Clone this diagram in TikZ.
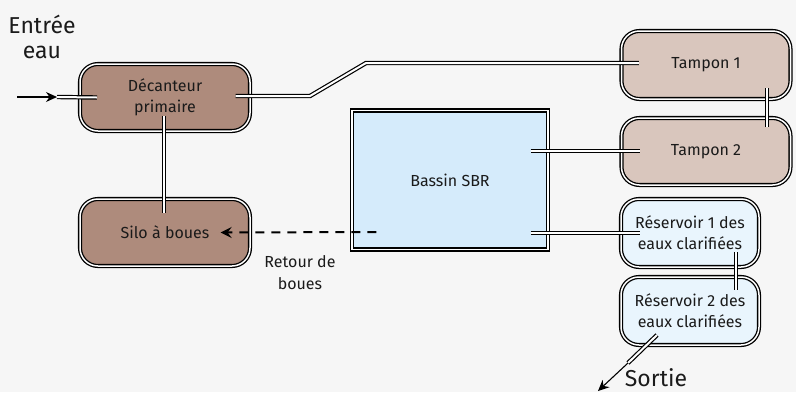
\documentclass[tikz,border=0pt]{standalone}
\usepackage{fontspec}
\setmainfont{Fira Sans}
\usetikzlibrary{arrows.meta}
\definecolor{bg}{HTML}{F6F6F6}
\definecolor{decfill}{HTML}{AE8B7C}
\definecolor{tampfill}{HTML}{D9C6BD}
\definecolor{sbrfill}{HTML}{D5EBFB}
\definecolor{resfill}{HTML}{E9F5FD}
\definecolor{txt}{HTML}{1A1A1A}
\tikzset{
  tank/.style={draw=black, line width=1.3pt, double=white, double distance=1.5pt,
    rounded corners=18pt, align=center, text=txt, font=\fontsize{16}{21}\selectfont, inner sep=2pt},
  basin/.style={draw=black, line width=1.3pt, double=white, double distance=1.5pt,
    align=center, text=txt, font=\fontsize{16}{21}\selectfont},
  pipe/.style={draw=black, line width=1.2pt, double=white, double distance=2pt},
  flow/.style={draw=black, line width=1.1pt, -{Stealth[length=11pt,width=10pt]}},
  label/.style={text=txt, align=center, font=\fontsize{16}{19}\selectfont},
  biglabel/.style={text=txt, align=center, font=\fontsize{23}{27}\selectfont},
}
\begin{document}
\begin{tikzpicture}[x=1pt,y=-1pt]
\fill[bg] (0,0) rectangle (796,392);
\useasboundingbox (0,0) rectangle (796,392);

% tanks
\node[tank, fill=decfill, minimum width=170pt, minimum height=67pt] (dec) at (165,97.5) {Décanteur\\primaire};
\node[tank, fill=decfill, minimum width=170pt, minimum height=67pt] (silo) at (165,232.5) {Silo à boues};
\node[tank, fill=tampfill, minimum width=169pt, minimum height=68pt] (t1) at (706,65) {Tampon 1};
\node[tank, fill=tampfill, minimum width=169pt, minimum height=67pt] (t2) at (706,151.5) {Tampon 2};
\node[basin, fill=sbrfill, minimum width=196pt, minimum height=139pt] (sbr) at (450,180) {Bassin SBR};
\node[tank, fill=resfill, minimum width=138pt, minimum height=68pt] (r1) at (690,233) {Réservoir 1 des\\eaux clarifiées};
\node[tank, fill=resfill, minimum width=138pt, minimum height=68pt] (r2) at (690,311) {Réservoir 2 des\\eaux clarifiées};

% labels
\node[biglabel] (entree) at (42,24) {Entrée};
\node[biglabel] (eau) at (42,52) {eau};
\node[biglabel] (sortie) at (656,378) {Sortie};
\node[label] (retour) at (300,262) {Retour de};
\node[label] (boues) at (300,284) {boues};

% connectors
\coordinate (in0) at (17,97);
\coordinate (in1) at (57,97);
\draw[flow] (in0) -- (in1);
\draw[pipe] (in1) -- (dec.west -| 97,0);
\draw[pipe] ([xshift=-15pt]dec.east |- 0,96) -- (310,96) -- (366,63) -- ([xshift=18pt]t1.west |- 0,63);
\draw[pipe] (164,116) -- (164,213);
\draw[pipe] (767,88) -- (767,127);
\draw[pipe] ([xshift=-18pt]sbr.east |- 0,151) -- ([xshift=19pt]t2.west |- 0,151);
\draw[pipe] ([xshift=-18pt]sbr.east |- 0,233) -- ([xshift=20pt]r1.west |- 0,233);
\draw[pipe] (736,252) -- (736,290);
\coordinate (out1) at (628,363);
\coordinate (out2) at (598,391);
\draw[pipe] (657,335) -- (out1);
\draw[flow] (out1) -- (out2);
\draw[draw=black, line width=2pt, dash pattern=on 9pt off 7pt, -{Stealth[length=11pt,width=11pt,inset=4pt]}] ([xshift=25pt]sbr.west |- 0,232) -- ([xshift=-30pt]silo.east);
\end{tikzpicture}
\end{document}
